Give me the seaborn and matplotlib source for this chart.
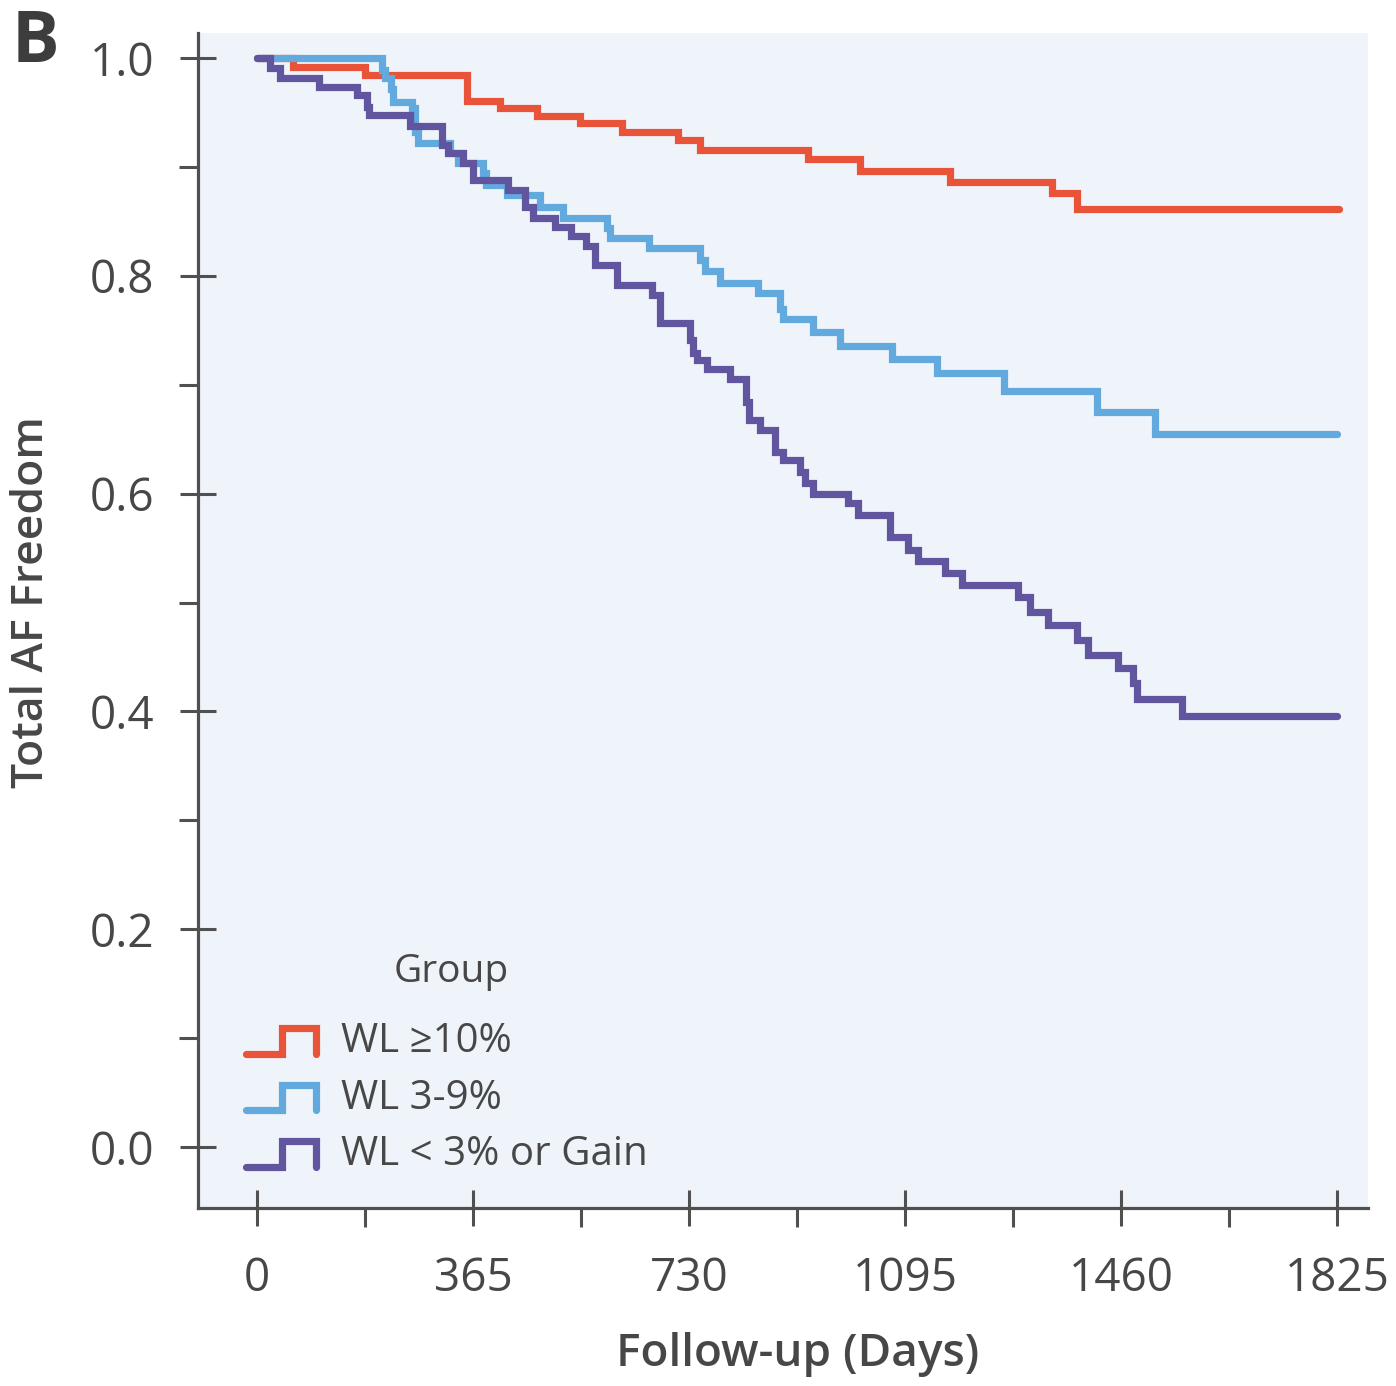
import numpy as np
import pandas as pd
import seaborn as sns
import matplotlib.pyplot as plt
from matplotlib.lines import Line2D
from matplotlib.legend_handler import HandlerBase
from matplotlib.ticker import FixedLocator

# Kaplan-Meier estimates
groups = ['WL ≥10%', 'WL 3-9%', 'WL < 3% or Gain']
colors = ['#E8533A', '#62A9DD', '#62559F']

days_high = [0, 61, 182, 355, 411, 473, 546, 617, 711, 749, 931, 1019, 1171, 1343, 1386, 1828]
surv_high = [1.0, 0.992, 0.984, 0.961, 0.954, 0.947, 0.940, 0.932, 0.925, 0.916, 0.907,
             0.896, 0.886, 0.876, 0.861, 0.861]

days_mid = [0, 211, 216, 226, 230, 262, 267, 272, 326, 340, 382, 387, 422, 478, 517, 591,
            596, 662, 749, 757, 782, 847, 884, 889, 940, 985, 1073, 1149, 1262, 1419, 1517, 1825]
surv_mid = [1.0, 0.989, 0.982, 0.972, 0.960, 0.954, 0.932, 0.922, 0.913, 0.904, 0.894, 0.883,
            0.874, 0.863, 0.853, 0.844, 0.835, 0.826, 0.815, 0.804, 0.793, 0.784, 0.770, 0.760,
            0.748, 0.736, 0.724, 0.711, 0.694, 0.675, 0.655, 0.655]

days_low = [0, 22, 39, 105, 169, 186, 189, 259, 313, 323, 348, 365, 424, 453, 466, 504, 531,
            556, 571, 608, 667, 681, 732, 737, 743, 760, 799, 826, 831, 850, 875, 889, 918, 925,
            940, 999, 1016, 1070, 1100, 1117, 1163, 1191, 1286, 1306, 1337, 1386, 1404, 1455,
            1480, 1487, 1563, 1825]
surv_low = [1.0, 0.991, 0.982, 0.973, 0.966, 0.955, 0.948, 0.938, 0.920, 0.913, 0.904, 0.888,
            0.879, 0.863, 0.853, 0.845, 0.837, 0.827, 0.810, 0.792, 0.782, 0.757, 0.741, 0.729,
            0.723, 0.714, 0.705, 0.684, 0.668, 0.658, 0.638, 0.631, 0.620, 0.610, 0.600, 0.591,
            0.580, 0.560, 0.548, 0.538, 0.527, 0.516, 0.505, 0.491, 0.479, 0.466, 0.452, 0.440,
            0.426, 0.411, 0.396, 0.396]

x_major = [0, 365, 730, 1095, 1460, 1825]
x_minor = [182.5, 547.5, 912.5, 1277.5, 1642.5]
y_major = [0.0, 0.2, 0.4, 0.6, 0.8, 1.0]
y_minor = [0.1, 0.3, 0.5, 0.7, 0.9]

df = pd.concat([
    pd.DataFrame({'Days': d, 'Survival': s, 'Group': g})
    for g, d, s in zip(groups, [days_high, days_mid, days_low], [surv_high, surv_mid, surv_low])
], ignore_index=True)

sns.set_style('ticks')
plt.rcParams['font.family'] = ['Open Sans', 'DejaVu Sans']
txt = '#474747'
axc = '#505050'
LW = 5.2


class StepHandler(HandlerBase):
    # legend key drawn as a little survival step
    def create_artists(self, legend, orig_handle, xdescent, ydescent, width, height, fontsize, trans):
        xs = np.array([0.02, 0.52, 0.52, 0.98, 0.98]) * width - xdescent
        ys = np.array([-0.05, -0.05, 0.85, 0.85, -0.05]) * height - ydescent
        ln = Line2D(xs, ys, color=orig_handle.get_color(), linewidth=LW,
                    solid_capstyle='round', solid_joinstyle='miter')
        ln.set_transform(trans)
        return [ln]


fig = plt.figure(figsize=(13.96, 13.86), dpi=100)
ax = fig.add_axes([0.1418, 0.1284, 0.8382, 0.8478])
ax.set_facecolor('#EFF4FB')

sns.lineplot(data=df, x='Days', y='Survival', hue='Group', hue_order=groups, palette=colors,
             drawstyle='steps-post', estimator=None, sort=False, linewidth=LW, legend=False,
             solid_capstyle='round', solid_joinstyle='miter', ax=ax)

ax.set_xlim(-100, 1877)
ax.set_ylim(-0.056, 1.023)
ax.xaxis.set_major_locator(FixedLocator(x_major))
ax.xaxis.set_minor_locator(FixedLocator(x_minor))
ax.yaxis.set_major_locator(FixedLocator(y_major))
ax.yaxis.set_minor_locator(FixedLocator(y_minor))
ax.set_xticklabels([str(v) for v in x_major])
ax.set_yticklabels([f'{v:.1f}' for v in y_major])

for side in ['top', 'right']:
    ax.spines[side].set_visible(False)
for side in ['left', 'bottom']:
    ax.spines[side].set_linewidth(2.3)
    ax.spines[side].set_color(axc)

ax.tick_params(which='major', direction='inout', length=26.6, width=2.2, color=axc,
               labelsize=33, labelcolor=txt)
ax.tick_params(which='minor', direction='out', length=14, width=2.2, color=axc)
ax.tick_params(axis='y', which='major', pad=18)
ax.tick_params(axis='x', which='major', pad=21)

ax.set_xlabel('Follow-up (Days)', fontsize=33, fontweight='semibold', color=txt, va='center')
ax.set_ylabel('Total AF Freedom', fontsize=32, fontweight='semibold', color=txt, va='center')
x0, x1 = ax.get_xlim()
y0, y1 = ax.get_ylim()
ax.xaxis.set_label_coords((912.5 - x0) / (x1 - x0), -0.125)
ax.yaxis.set_label_coords(-0.142, (0.5 - y0) / (y1 - y0))

handles = [Line2D([], [], color=c) for c in colors]
leg = ax.legend(handles, groups, loc='lower left', bbox_to_anchor=(0.009, -0.003),
                frameon=False, fontsize=29, handlelength=1.8, handletextpad=0.6,
                labelspacing=0.4, handler_map={Line2D: StepHandler()})
for t in leg.get_texts():
    t.set_color(txt)
ax.text(0.216, 0.201, 'Group', transform=ax.transAxes, fontsize=28, color=txt,
        ha='center', va='center')

fig.text(0.008, 0.995, 'B', fontsize=51, fontweight='bold', color='#3d3d3d', va='top', ha='left')

fig.savefig('out.png', dpi=100)
